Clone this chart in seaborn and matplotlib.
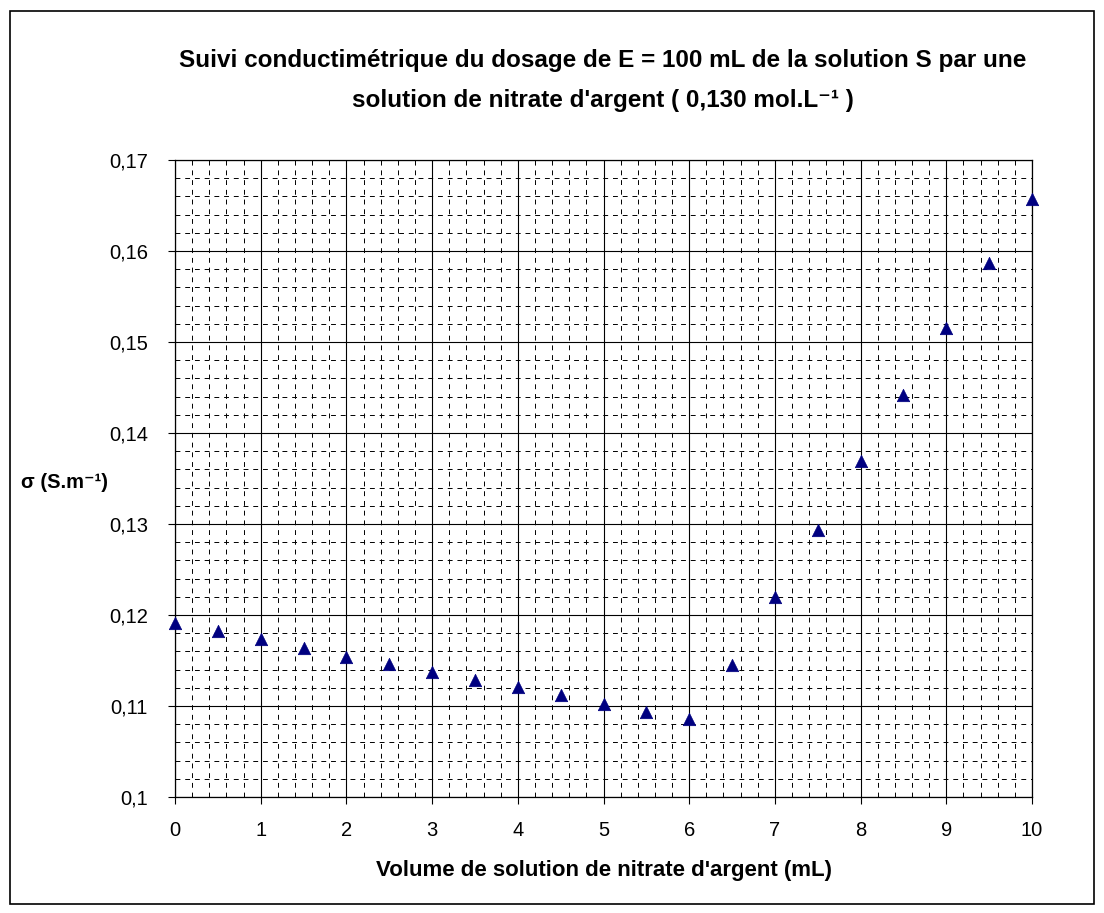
import matplotlib
matplotlib.use("Agg")
import matplotlib.pyplot as plt
import matplotlib.ticker as mticker
import pandas as pd
import seaborn as sns

# volume of silver nitrate added (mL) and conductivity (S/m)
volume = [0, 0.5, 1, 1.5, 2, 2.5, 3, 3.5, 4, 4.5, 5, 5.5, 6, 6.5, 7, 7.5, 8, 8.5, 9, 9.5, 10]
sigma = [0.1191, 0.1182, 0.1174, 0.1164, 0.1154, 0.1146, 0.1137, 0.1129, 0.1121, 0.1112,
         0.1102, 0.1094, 0.1086, 0.1145, 0.1220, 0.1294, 0.1369, 0.1442, 0.1515, 0.1587, 0.1657]

x_ticks = [0, 1, 2, 3, 4, 5, 6, 7, 8, 9, 10]
y_ticks = [0.10, 0.11, 0.12, 0.13, 0.14, 0.15, 0.16, 0.17]

df = pd.DataFrame({"V": volume, "sigma": sigma})

sns.set_style("white")
plt.rcParams["font.family"] = ["Liberation Sans", "DejaVu Sans"]
plt.rcParams["text.color"] = "black"
plt.rcParams["axes.labelcolor"] = "black"
plt.rcParams["xtick.color"] = "black"
plt.rcParams["ytick.color"] = "black"

fig = plt.figure(figsize=(11.04, 9.13), dpi=100)
ax = fig.add_axes([0.1585, 0.127, 0.7763, 0.6977])

ax.set_xlim(0, 10)
ax.set_ylim(0.10, 0.17)
ax.set_xticks(x_ticks)
ax.set_yticks(y_ticks)
ax.xaxis.set_minor_locator(mticker.MultipleLocator(0.2))
ax.yaxis.set_minor_locator(mticker.MultipleLocator(0.002))
ax.yaxis.set_major_formatter(mticker.FuncFormatter(lambda v, p: f"{v:.2f}".rstrip("0").replace(".", ",")))
ax.xaxis.set_major_formatter(mticker.FuncFormatter(lambda v, p: f"{v:g}".replace(".", ",")))

ax.grid(which="major", color="black", linewidth=0.8, linestyle="-")
ax.grid(which="minor", color="black", linewidth=0.7, linestyle=(0, (5, 5)))
ax.set_axisbelow(True)

sns.scatterplot(data=df, x="V", y="sigma", marker="^", s=80, color="#000080",
                edgecolor="#000080", linewidth=0.5, ax=ax, zorder=3, clip_on=False)

for s in ax.spines.values():
    s.set_color("black")
    s.set_linewidth(0.9)

ax.tick_params(which="major", direction="out", length=5, width=0.8,
               labelsize=14.5, bottom=True, left=True)
ax.tick_params(axis="x", which="major", pad=12)
ax.tick_params(axis="y", which="major", pad=14.5)
ax.tick_params(which="minor", length=0)

ax.set_xlabel("Volume de solution de nitrate d'argent (mL)", fontsize=16, fontweight="bold", labelpad=15)
ax.set_ylabel("")
fig.text(0.019, 0.471, "σ (S.m⁻¹)", fontsize=14.5, fontweight="bold", ha="left", va="center")

fig.text(0.546, 0.934, "Suivi conductimétrique du dosage de E = 100 mL de la solution S par une",
         fontsize=17.5, fontweight="bold", ha="center", va="center")
fig.text(0.546, 0.890, "solution de nitrate d'argent ( 0,130 mol.L⁻¹ )",
         fontsize=17.5, fontweight="bold", ha="center", va="center")

border = plt.Rectangle((0.009, 0.010), 0.982, 0.978, transform=fig.transFigure,
                       fill=False, edgecolor="black", linewidth=1.2)
fig.patches.append(border)

fig.savefig("out.png", dpi=100)
